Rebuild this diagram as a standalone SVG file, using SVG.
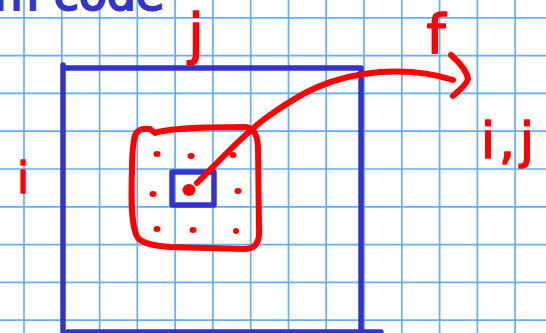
<svg xmlns="http://www.w3.org/2000/svg" width="546" height="333" viewBox="0 0 546 333">
<style>
.grid line{stroke:#62AEFF;stroke-width:1.7}
.blue{fill:none;stroke:#3434CB;stroke-width:5.5;stroke-linecap:round;stroke-linejoin:round}
.red{fill:none;stroke:#FF0000;stroke-width:6;stroke-linecap:round;stroke-linejoin:round}
.dot{fill:#FF0000}
.lbl{font-family:"DejaVu Sans",sans-serif;fill:#FF0000;stroke:#FF0000;stroke-width:1.5;stroke-linejoin:round;text-anchor:middle}
.top{font-family:"DejaVu Sans",sans-serif;fill:#3434CB;stroke:#3434CB;stroke-width:2;font-size:46px}
</style>
<rect width="546" height="333" fill="#FFFFFF"/>
<g class="grid">
<line x1="24" y1="0" x2="24" y2="333"/><line x1="61.8" y1="0" x2="61.8" y2="333"/><line x1="99.6" y1="0" x2="99.6" y2="333"/><line x1="137.3" y1="0" x2="137.3" y2="333"/><line x1="175.1" y1="0" x2="175.1" y2="333"/><line x1="212.9" y1="0" x2="212.9" y2="333"/><line x1="250.7" y1="0" x2="250.7" y2="333"/><line x1="288.5" y1="0" x2="288.5" y2="333"/><line x1="326.2" y1="0" x2="326.2" y2="333"/><line x1="364" y1="0" x2="364" y2="333"/><line x1="401.8" y1="0" x2="401.8" y2="333"/><line x1="439.6" y1="0" x2="439.6" y2="333"/><line x1="477.4" y1="0" x2="477.4" y2="333"/><line x1="515.1" y1="0" x2="515.1" y2="333"/>
<line x1="0" y1="17.8" x2="546" y2="17.8"/><line x1="0" y1="55.6" x2="546" y2="55.6"/><line x1="0" y1="93.4" x2="546" y2="93.4"/><line x1="0" y1="131.2" x2="546" y2="131.2"/><line x1="0" y1="169" x2="546" y2="169"/><line x1="0" y1="206.8" x2="546" y2="206.8"/><line x1="0" y1="244.6" x2="546" y2="244.6"/><line x1="0" y1="282.4" x2="546" y2="282.4"/><line x1="0" y1="320.2" x2="546" y2="320.2"/>
</g>
<text class="top" x="-6" y="10">m code</text>
<g id="image">
<path class="blue" d="M63,65 L63,331 M63,68 L361,68 L361,331 M68,332 L381,332"/>
</g>
<g id="pixel">
<rect class="blue" x="172" y="172" width="42" height="33"/>
</g>
<g id="neighborhood">
<path class="red" d="M134,140 C135,131 141,128 150,129 L155,133 C165,129 205,127 245,127 C254,128 258,136 258,148 L259,228 C260,242 256,249 244,249 L170,247 C155,246 143,244 138,238 C131,228 131,200 132,170 C132,155 133,146 134,140 Z"/>
<ellipse class="dot" cx="157" cy="154" rx="3.5" ry="3"/>
<ellipse class="dot" cx="191" cy="156" rx="3.5" ry="3"/>
<ellipse class="dot" cx="233" cy="155" rx="3.5" ry="3"/>
<ellipse class="dot" cx="153" cy="194" rx="3.5" ry="3"/>
<ellipse class="dot" cx="238" cy="191" rx="3.5" ry="3"/>
<ellipse class="dot" cx="157" cy="229" rx="3.5" ry="3"/>
<ellipse class="dot" cx="193" cy="230" rx="3.5" ry="3"/>
<ellipse class="dot" cx="236" cy="231" rx="3" ry="3"/>
<ellipse class="dot" cx="189" cy="190" rx="6.5" ry="6"/>
</g>
<g id="connectors">
<path class="red" d="M197,183 C225,155 250,128 273,113 C300,94 330,76 380,72 C410,70 435,74 453,80"/>
<path class="red" d="M451,55 C460,63 467,72 468,79 C466,86 458,91 453,96"/>
</g>
<g id="labels">
<text class="lbl" x="196" y="53" font-size="56">j</text>
<text class="lbl" x="23" y="193" font-size="42">i</text>
<text class="lbl" x="436" y="53" font-size="54">f</text>
<text class="lbl" x="488 507 527" y="158" font-size="50">i,j</text>
</g>
</svg>
